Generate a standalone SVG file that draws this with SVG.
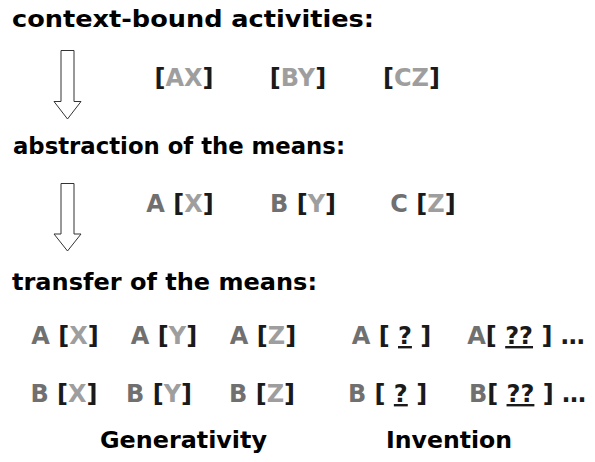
<svg xmlns="http://www.w3.org/2000/svg" width="595" height="462" viewBox="0 0 595 462">
  <style>
    text { font-family: "DejaVu Sans", "Liberation Sans", sans-serif; font-weight: bold; }
    .h { font-size: 23px; fill: #000; }
    .it { font-size: 24px; fill: #1a1a1a; text-anchor: middle; }
    .m { fill: #707070; }
    .c { fill: #9e9e9e; }
    .u { text-decoration: underline; }
    .arrow { fill: #fff; stroke: #333; stroke-width: 1; }
  </style>
  <rect width="595" height="462" fill="#fff"/>

  <g id="heading-context">
    <text class="h" x="12" y="27" textLength="362" lengthAdjust="spacingAndGlyphs">context-bound activities:</text>
  </g>
  <g id="row1">
    <text class="it" x="184" y="86">[<tspan class="c">AX</tspan>]</text>
    <text class="it" x="298" y="86">[<tspan class="c">BY</tspan>]</text>
    <text class="it" x="411.5" y="86">[<tspan class="c">CZ</tspan>]</text>
  </g>

  <g id="heading-abstraction">
    <text class="h" x="13" y="154" textLength="332" lengthAdjust="spacingAndGlyphs">abstraction of the means:</text>
  </g>
  <g id="row2">
    <text class="it" x="180" y="212"><tspan class="m">A</tspan> [<tspan class="c">X</tspan>]</text>
    <text class="it" x="303" y="212"><tspan class="m">B</tspan> [<tspan class="c">Y</tspan>]</text>
    <text class="it" x="423" y="212"><tspan class="m">C</tspan> [<tspan class="c">Z</tspan>]</text>
  </g>

  <g id="heading-transfer">
    <text class="h" x="12" y="290" textLength="305" lengthAdjust="spacingAndGlyphs">transfer of the means:</text>
  </g>
  <g id="row3">
    <text class="it" x="65" y="344"><tspan class="m">A</tspan> [<tspan class="c">X</tspan>]</text>
    <text class="it" x="164" y="344"><tspan class="m">A</tspan> [<tspan class="c">Y</tspan>]</text>
    <text class="it" x="263" y="344"><tspan class="m">A</tspan> [<tspan class="c">Z</tspan>]</text>
    <text class="it" x="391.5" y="344"><tspan class="m">A</tspan> [ <tspan class="u">?</tspan> ]</text>
    <text class="it" x="526" y="344"><tspan class="m">A</tspan>[ <tspan class="u">??</tspan> ] …</text>
  </g>
  <g id="row4">
    <text class="it" x="64" y="402"><tspan class="m">B</tspan> [<tspan class="c">X</tspan>]</text>
    <text class="it" x="159" y="402"><tspan class="m">B</tspan> [<tspan class="c">Y</tspan>]</text>
    <text class="it" x="262" y="402"><tspan class="m">B</tspan> [<tspan class="c">Z</tspan>]</text>
    <text class="it" x="387.5" y="402"><tspan class="m">B</tspan> [ <tspan class="u">?</tspan> ]</text>
    <text class="it" x="527.5" y="402"><tspan class="m">B</tspan>[ <tspan class="u">??</tspan> ] …</text>
  </g>

  <g id="label-generativity">
    <text class="h" x="100" y="448" textLength="167" lengthAdjust="spacingAndGlyphs">Generativity</text>
  </g>
  <g id="label-invention">
    <text class="h" x="386" y="448" textLength="126" lengthAdjust="spacingAndGlyphs">Invention</text>
  </g>

  <g id="connectors">
    <polygon class="arrow" points="61,50.5 74,50.5 74,101.5 81,101.5 67.5,119 54,101.5 61,101.5"/>
    <polygon class="arrow" points="61,183.5 74,183.5 74,234 81,234 67.5,251 54,234 61,234"/>
  </g>
</svg>
